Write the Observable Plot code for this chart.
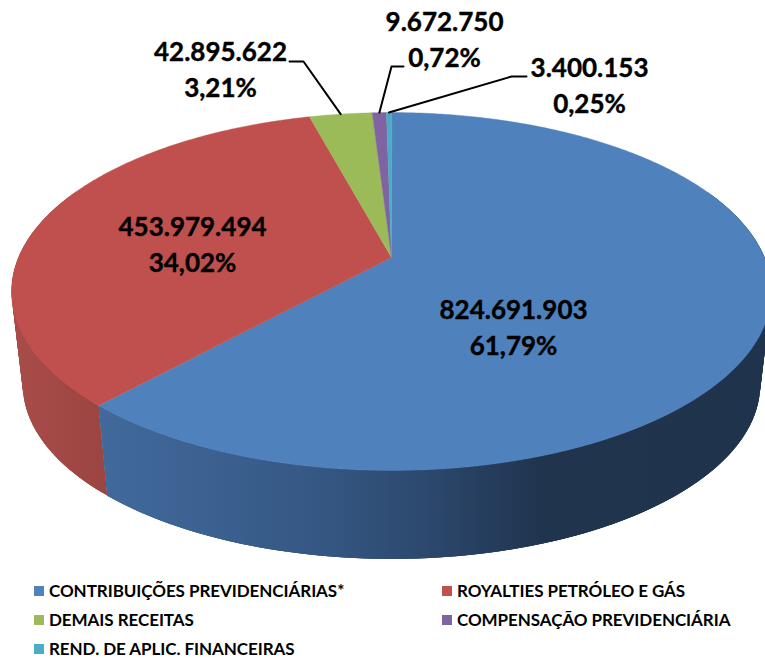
<!DOCTYPE html>
<html><head><meta charset="utf-8">
<script src="https://cdn.jsdelivr.net/npm/d3@7"></script>
<script src="https://cdn.jsdelivr.net/npm/@observablehq/plot@0.6"></script>
<style>
html,body{margin:0;padding:0;background:#fff;width:765px;height:658px;overflow:hidden}
#chart svg{display:block}
#legend{display:grid;grid-template-columns:408px auto;row-gap:11px;padding:9.5px 0 0 34px;font:700 17px/18px Lato,sans-serif;letter-spacing:-.06px;color:#000}
#legend div{display:flex;align-items:center;white-space:nowrap}
#legend i{display:inline-block;width:10px;height:10px;margin-right:5px}
</style></head><body>
<div id="chart"></div><div id="legend"></div>
<script>
// Data
const categories = ["CONTRIBUIÇÕES PREVIDENCIÁRIAS*","ROYALTIES PETRÓLEO E GÁS","DEMAIS RECEITAS","COMPENSAÇÃO PREVIDENCIÁRIA","REND. DE APLIC. FINANCEIRAS"];
const values = [824691903,453979494,42895622,9672750,3400153];
const percents = ["61,79%","34,02%","3,21%","0,72%","0,25%"];
const colors = ["#4F81BD","#C0504D","#9BBB59","#8064A2","#4BACC6"];
// Layout of the drawing (perspective disc, label placement), separate from the data
const W=765,H=572,CX=391;
const top3d={cy:257,R:373,Q:172.5,k:.19};
const bot3d={cy:351,R:362,Q:168,k:.19};
const labelX=[513,192,220,444,589], labelY=[325,242,67,37,83];
const elbows=[null,null,[[289,61],[303,61]],[[403,66],[391,66]],[[526,76],[511,76]]];
const wallStops=[
  {id:"wall0",stops:[[100,"#41699a"],[200,"#3c6292"],[330,"#345681"],[440,"#2b466a"],[540,"#20344e"],[765,"#1f334c"]]},
  {id:"wall1",stops:[[15,"#a84c49"],[110,"#9b4441"]]}
];

const P=(deg,l)=>{const a=deg*Math.PI/180,u=Math.sin(a),v=Math.cos(a),w=1+l.k*v;return [CX+l.R*u/w,l.cy-l.Q*v/w];};
const total=d3.sum(values);
let acc=0;
const slices=values.map((v,i)=>{const s=acc/total*360;acc+=v;return {i,s,e:acc/total*360};});
const steps=(s,e,d=.5)=>{const n=Math.max(1,Math.ceil((e-s)/d));return d3.range(n+1).map(j=>s+(e-s)*j/n);};

// Side wall: overlapping quads between the top and bottom rims, sharing one gradient so no seams show
const wallMeta=[];
slices.slice(0,2).forEach(sl=>{
  const g=steps(sl.s,sl.e,1);
  for(let j=0;j<g.length-1;j++){
    const a=g[j],b=Math.min(g[j]+3,sl.e);
    const mid=(a+b)/360*Math.PI;
    if(Math.cos(mid)>.4) continue;
    wallMeta.push({id:sl.i+"-"+j,depth:Math.cos(mid),c:`url(#wall${sl.i})`,pts:[P(a,top3d),P(b,top3d),P(b,bot3d),P(a,bot3d)]});
  }
});
wallMeta.sort((p,q)=>q.depth-p.depth);
const wall=wallMeta.flatMap(m=>m.pts.map(p=>({id:m.id,x:p[0],y:p[1],c:m.c})));

const tops=[];
slices.forEach(sl=>{
  tops.push({id:sl.i,x:CX,y:top3d.cy,c:colors[sl.i]});
  steps(sl.s,sl.e).forEach(a=>{const p=P(a,top3d);tops.push({id:sl.i,x:p[0],y:p[1],c:colors[sl.i]});});
});

const leaders=[];
slices.forEach(sl=>{
  if(!elbows[sl.i])return;
  const end=P((sl.s+sl.e)/2,top3d);
  [...elbows[sl.i],end].forEach(p=>leaders.push({id:sl.i,x:p[0],y:p[1]}));
});
const fmt=n=>d3.format(",")(n).replace(/,/g,".");
const labels=values.map((v,i)=>({x:labelX[i],y:labelY[i],t:fmt(v)+"\n"+percents[i]}));

const defsMark=()=>{
  const g=d3.create("svg:defs");
  wallStops.forEach(w=>{
    const lg=g.append("linearGradient").attr("id",w.id).attr("gradientUnits","userSpaceOnUse").attr("x1",0).attr("x2",W).attr("y1",0).attr("y2",0);
    w.stops.forEach(([x,c])=>lg.append("stop").attr("offset",x/W).attr("stop-color",c));
  });
  return g.node();
};

const chart=Plot.plot({
  width:W,height:H,margin:0,
  x:{domain:[0,W],range:[0,W],axis:null},
  y:{domain:[0,H],range:[0,H],axis:null},
  color:{type:"identity"},
  style:{background:"#fff",overflow:"hidden"},
  marks:[
    defsMark,
    Plot.line(wall,{x:"x",y:"y",z:"id",fill:"c",stroke:"none",curve:"linear-closed"}),
    Plot.line(tops,{x:"x",y:"y",z:"id",fill:"c",stroke:"c",strokeWidth:.4,curve:"linear-closed"}),
    Plot.line(leaders,{x:"x",y:"y",z:"id",stroke:"#000",strokeWidth:2,curve:"linear"}),
    Plot.text(labels,{x:"x",y:"y",text:"t",fontFamily:"Lato, sans-serif",fontWeight:700,fontSize:26,lineHeight:1.385,fill:"#000",stroke:"#000",strokeWidth:.4,textAnchor:"middle"})
  ]
});
document.getElementById("chart").append(chart);
const lg=document.getElementById("legend");
categories.forEach((c,i)=>{const d=document.createElement("div");const s=document.createElement("i");s.style.background=colors[i];d.append(s,c);lg.append(d);});
</script></body></html>
